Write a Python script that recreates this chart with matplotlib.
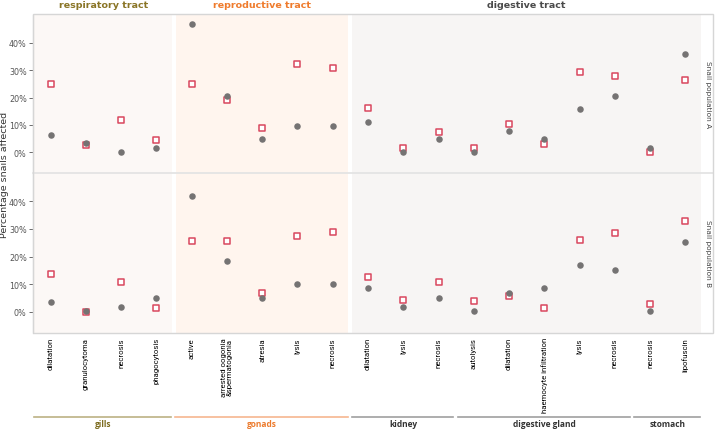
import matplotlib.pyplot as plt
from matplotlib import font_manager
from matplotlib.patches import Rectangle
from matplotlib.lines import Line2D
from matplotlib.transforms import blended_transform_factory

categories = ["dilatation", "granulocytoma", "necrosis", "phagocytosis",
              "active", "arrested oogonia\n&spermatogonia", "atresia", "lysis", "necrosis",
              "dilatation", "lysis", "necrosis",
              "autolysis", "dilatation", "haemocyte infiltration", "lysis", "necrosis",
              "necrosis", "lipofuscin"]

organs = ["gills", "gonads", "kidney", "digestive gland", "stomach"]
organ_sizes = [4, 5, 3, 5, 2]
tracts = ["respiratory tract", "reproductive tract", "digestive tract"]
tract_sizes = [4, 5, 10]

# population A
pop_a_circles = [6.3, 3.3, 0.1, 1.7, 46.9, 20.4, 4.8, 9.5, 9.5,
                 11.0, 0.1, 4.8, 0.1, 7.9, 4.8, 15.8, 20.4, 1.7, 36.1]
pop_a_squares = [25.0, 2.8, 11.7, 4.5, 25.0, 19.0, 8.8, 32.4, 30.8,
                 16.1, 1.6, 7.4, 1.6, 10.3, 3.0, 29.3, 27.9, 0.0, 26.4]
# population B
pop_b_circles = [3.5, 0.2, 1.9, 5.2, 41.8, 18.5, 5.2, 10.2, 10.2,
                 8.6, 1.9, 5.2, 0.2, 6.9, 8.6, 16.8, 15.3, 0.2, 25.2]
pop_b_squares = [13.6, 0.0, 10.9, 1.5, 25.8, 25.8, 6.9, 27.5, 28.8,
                 12.5, 4.2, 10.9, 4.1, 5.6, 1.6, 26.1, 28.5, 2.9, 33.0]

tract_bg = ["#fcf8f6", "#fff5ee", "#f7f5f4"]
tract_colors = ["#8a7526", "#ef7b2c", "#4a4a4a"]
organ_line_colors = ["#bcb184", "#f6b690", "#a0a0a0", "#a0a0a0", "#a0a0a0"]
organ_text_colors = ["#7d6c1f", "#ec7a2c", "#333333", "#333333", "#333333"]

# narrow font for the rotated tick labels, if one is around
try:
    font_manager.findfont(font_manager.FontProperties(family="Liberation Sans Narrow"), fallback_to_default=False)
    tick_font, tick_size = "Liberation Sans Narrow", 7
except ValueError:
    tick_font, tick_size = "Roboto", 5.6

W, H = 715, 431
fig = plt.figure(figsize=(W / 100, H / 100), dpi=100)

left, right, top, mid, bottom = 33, 703, 16, 174, 334
ax_top = fig.add_axes([left / W, 1 - mid / H, (right - left) / W, (mid - top) / H])
ax_bot = fig.add_axes([left / W, 1 - bottom / H, (right - left) / W, (bottom - mid) / H])

x = list(range(len(categories)))

for ax, circles, squares, strip in [(ax_top, pop_a_circles, pop_a_squares, "Snail population A"),
                                    (ax_bot, pop_b_circles, pop_b_squares, "Snail population B")]:
    start = -0.5
    for size, bg in zip(tract_sizes, tract_bg):
        ax.axvspan(start + (0.06 if start > 0 else 0), start + size - 0.06, color=bg, lw=0, zorder=0)
        start += size
    ax.scatter(x, squares, marker="s", s=21, facecolor="white", edgecolor="#d9475e",
               linewidth=1.1, zorder=3)
    ax.scatter(x, circles, marker="o", s=22, color="#757373", lw=0, zorder=4)
    ax.set_xlim(-0.5, len(categories) - 0.5)
    ax.set_ylim(-7.6, 50.2)
    ax.set_yticks([0, 10, 20, 30, 40])
    ax.set_yticklabels([f"{v}%" for v in [0, 10, 20, 30, 40]])
    ax.tick_params(axis="y", labelsize=5.8, colors="#555555", length=3, width=0.6, pad=1.5)
    for s in ["top", "right", "bottom"]:
        ax.spines[s].set_visible(False)
    ax.spines["left"].set_color("#bbbbbb")
    ax.text(1.0 + 5 / (right - left), 0.5, strip, transform=ax.transAxes, rotation=270,
            ha="center", va="center", fontsize=5.3, color="#444444")

ax_top.set_xticks([])
ax_bot.set_xticks(x)
ax_bot.set_xticklabels(categories, rotation=90, fontsize=tick_size, family=[tick_font, "DejaVu Sans"],
                       va="top", linespacing=0.85)
ax_bot.tick_params(axis="x", length=0, pad=3)

# outer frame and panel divider
fig.add_artist(Rectangle((left / W, 1 - bottom / H), (713 - left) / W, (bottom - 15) / H,
                         transform=fig.transFigure, fill=False, edgecolor="#d6d6d6", lw=1, zorder=10))
fig.add_artist(Line2D([left / W, 713 / W], [1 - mid / H, 1 - mid / H], color="#e2e2e2", lw=1.2))

fig.text(5 / W, 1 - 175 / H, "Percentage snails affected", rotation=90, ha="center", va="center",
         fontsize=6.8, color="#333333")

# tract headers
trans_top = blended_transform_factory(ax_top.transData, fig.transFigure)
start = -0.5
for name, size, color in zip(tracts, tract_sizes, tract_colors):
    ax_top.text(start + size / 2, 1 - 6 / H, name, transform=trans_top, ha="center", va="center",
                fontsize=6.8, fontweight="bold", color=color)
    start += size

# organ groups under the tick labels
trans_bot = blended_transform_factory(ax_bot.transData, fig.transFigure)
start = -0.5
for name, size, lc, tc in zip(organs, organ_sizes, organ_line_colors, organ_text_colors):
    ax_bot.plot([start + 0.04, start + size - 0.08], [1 - 418 / H] * 2, transform=trans_bot,
                color=lc, lw=1.2, clip_on=False)
    ax_bot.text(start + size / 2, 1 - 425 / H, name, transform=trans_bot, ha="center", va="center",
                fontsize=6, fontweight="bold", color=tc, family=["Open Sans", "DejaVu Sans"])
    start += size

fig.savefig("out.png", dpi=100)
